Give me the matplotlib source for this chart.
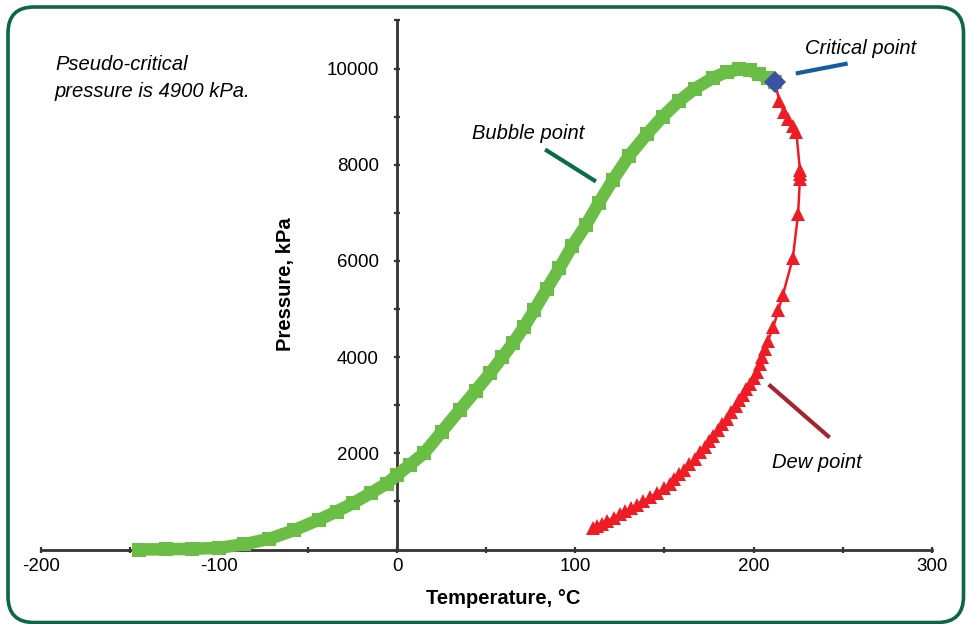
import matplotlib
matplotlib.use("Agg")
import matplotlib.pyplot as plt
from matplotlib.patches import FancyBboxPatch
from matplotlib.transforms import IdentityTransform
from matplotlib.ticker import FixedLocator

plt.rcParams['font.family'] = ['Liberation Sans', 'DejaVu Sans']
plt.rcParams['axes.unicode_minus'] = False

# ---- data ----
bubble_T = [-145, -130, -115, -100, -86, -72, -58, -44, -34, -25, -15, -6, 0, 7, 15,
            25, 35, 44, 52, 59, 65, 71, 77, 84, 91, 98, 106, 113, 121, 130, 140,
            149, 158, 167, 177, 185, 192, 198, 203, 208, 212]
bubble_P = [0, 5, 15, 35, 110, 220, 400, 620, 790, 960, 1170, 1370, 1550, 1760, 2000,
            2450, 2900, 3300, 3660, 4000, 4290, 4620, 4980, 5420, 5850, 6300, 6750, 7200, 7680, 8180, 8630,
            9000, 9320, 9580, 9800, 9930, 9980, 9960, 9880, 9800, 9710]

dew_T = [212, 214.5, 217, 219.5, 222, 224, 226, 226, 226, 225, 222, 216.5, 214, 211, 208,
         206.5, 205, 203.5, 202, 200, 198, 196, 194, 192, 190, 187.5, 185, 182.5, 180,
         177.5, 175, 172.5, 170, 167, 164, 161, 158, 155.5, 153, 149.5, 146, 142, 138,
         134.5, 131, 128, 125, 121.5, 118, 115, 112, 110]
dew_P = [9710, 9330, 9100, 8960, 8800, 8680, 7900, 7800, 7700, 6970, 6050, 5300, 4980, 4620, 4330,
         4170, 4000, 3850, 3700, 3570, 3450, 3330, 3220, 3100, 2980, 2850, 2720, 2600, 2480,
         2360, 2250, 2130, 2020, 1890, 1770, 1660, 1560, 1460, 1370, 1270, 1180, 1090, 1000,
         930, 860, 795, 730, 665, 600, 540, 480, 440]

critical_T = [212]
critical_P = [9710]

x_tick_labels = ['-200', '-100', '0', '100', '200', '300']
y_tick_labels = ['2000', '4000', '6000', '8000', '10000']

# ---- figure ----
W, H = 968, 624
fig = plt.figure(figsize=(W / 100, H / 100), dpi=100)
ax = fig.add_axes([41 / W, 74.5 / H, (931.7 - 41) / W, (603.6 - 74.5) / H])

axis_col = '#333333'
ax.set_xlim(-200, 300)
ax.set_ylim(0, 11000)
for s in ['top', 'right']:
    ax.spines[s].set_visible(False)
ax.spines['left'].set_position(('data', 0))
ax.spines['bottom'].set_position(('data', 0))
for s in ['left', 'bottom']:
    ax.spines[s].set_color(axis_col)
    ax.spines[s].set_linewidth(2)

ax.xaxis.set_major_locator(FixedLocator([-200, -100, 0, 100, 200, 300]))
ax.xaxis.set_minor_locator(FixedLocator([-150, -50, 50, 150, 250]))
ax.set_xticklabels(x_tick_labels)
ax.yaxis.set_major_locator(FixedLocator([2000, 4000, 6000, 8000, 10000]))
ax.yaxis.set_minor_locator(FixedLocator([1000, 3000, 5000, 7000, 9000, 11000]))
ax.set_yticklabels(y_tick_labels)

ax.tick_params(which='both', direction='inout', length=4.5, width=1.6, color=axis_col)
ax.tick_params(axis='x', which='major', labelsize=13.5, pad=4)
ax.tick_params(axis='y', which='major', labelsize=13.5, pad=11)

# dew point curve
ax.plot(dew_T, dew_P, color='#ee1c25', lw=1.8, marker='^', ms=10.5,
        markeredgewidth=0, clip_on=False, zorder=3)
# bubble point curve
ax.plot(bubble_T, bubble_P, color='#6abd45', lw=9, marker='s', ms=9.5,
        markeredgewidth=0, solid_capstyle='butt', clip_on=False, zorder=4)
# critical point
ax.plot(critical_T, critical_P, linestyle='none', marker='D', ms=11,
        color='#3c51a3', markeredgewidth=0, clip_on=False, zorder=5)

# annotation leader lines
ax.plot([83, 111.5], [8316, 7651], color='#0b6b4e', lw=3, solid_capstyle='butt', zorder=2)
ax.plot([223.7, 252.8], [9896, 10104], color='#145da0', lw=3, solid_capstyle='butt', zorder=2)
ax.plot([208.5, 242.7], [3430, 2328], color='#a3262f', lw=3, solid_capstyle='butt', zorder=2)

# annotation texts
ax.text(42, 8650, 'Bubble point', fontsize=14.5, style='italic', va='center', ha='left')
ax.text(228.7, 10420, 'Critical point', fontsize=14.5, style='italic', va='center', ha='left')
ax.text(210.2, 1800, 'Dew point', fontsize=14.5, style='italic', va='center', ha='left')
fig.text(55 / W, 1 - 78 / H, 'Pseudo-critical\npressure is 4900 kPa.', fontsize=14.5,
         style='italic', va='center', ha='left', linespacing=1.5)

# axis labels
fig.text(503 / W, 1 - 598 / H, 'Temperature, \u00b0C', fontsize=14.5, fontweight='bold',
         ha='center', va='center')
fig.text(285 / W, 1 - 284 / H, 'Pressure, kPa', fontsize=14.5, fontweight='bold',
         ha='center', va='center', rotation=90)

# rounded frame
frame = FancyBboxPatch((8, 1.5), 955.5, 615.5, boxstyle='round,pad=0,rounding_size=26',
                       transform=IdentityTransform(), fill=False, edgecolor='#0f654c',
                       linewidth=2.6, zorder=10)
fig.add_artist(frame)

fig.savefig('out.png', dpi=100)
